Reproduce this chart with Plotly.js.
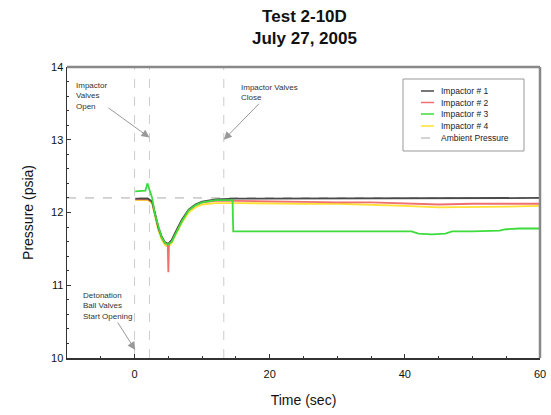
<!DOCTYPE html>
<html><head><meta charset="utf-8">
<script src="https://cdn.plot.ly/plotly-3.0.1.min.js"></script>
<style>body{margin:0;background:#fff}#c{width:551px;height:415px}</style>
</head><body><div id="c"></div>
<script>
// Impactor #1
const t1 = [0.1, 1, 2, 2.6, 3, 3.5, 4, 4.5, 5, 5.5, 6, 7, 8, 9, 10, 11, 12, 15, 20, 25, 30, 35, 40, 45, 50, 55, 60];
const p1 = [12.19, 12.19, 12.19, 12.15, 11.98, 11.8, 11.67, 11.59, 11.57, 11.62, 11.72, 11.9, 12.04, 12.11, 12.15, 12.17, 12.18, 12.19, 12.19, 12.19, 12.19, 12.19, 12.2, 12.19, 12.2, 12.2, 12.2];
// Impactor #2
const t2 = [0.1, 1, 2, 2.6, 3, 3.5, 4, 4.5, 4.9, 5.0, 5.1, 5.5, 6, 7, 8, 9, 10, 11, 12, 15, 20, 25, 30, 35, 40, 45, 50, 55, 60];
const p2 = [12.18, 12.18, 12.18, 12.14, 11.97, 11.79, 11.66, 11.58, 11.56, 11.18, 11.58, 11.62, 11.71, 11.89, 12.03, 12.1, 12.14, 12.15, 12.16, 12.16, 12.15, 12.15, 12.14, 12.14, 12.13, 12.11, 12.12, 12.12, 12.12];
// Impactor #3
const t3 = [0.1, 1, 1.6, 1.9, 2.2, 2.6, 3, 3.5, 4, 4.5, 5, 5.5, 6, 7, 8, 9, 10, 11, 12, 14.5, 14.6, 20, 25, 30, 35, 40, 41, 42, 44, 46, 47, 50, 54, 55, 57, 60];
const p3 = [12.29, 12.29, 12.3, 12.4, 12.3, 12.2, 11.98, 11.8, 11.66, 11.58, 11.56, 11.6, 11.7, 11.88, 12.03, 12.1, 12.14, 12.16, 12.17, 12.17, 11.74, 11.74, 11.74, 11.74, 11.74, 11.74, 11.74, 11.71, 11.7, 11.71, 11.74, 11.74, 11.75, 11.77, 11.78, 11.78];
// Impactor #4
const t4 = [0.1, 1, 2, 2.6, 3, 3.5, 4, 4.5, 5, 5.5, 6, 7, 8, 9, 10, 11, 12, 15, 20, 25, 30, 35, 40, 45, 50, 55, 60];
const p4 = [12.17, 12.17, 12.17, 12.12, 11.94, 11.76, 11.63, 11.55, 11.53, 11.58, 11.68, 11.86, 12.0, 12.07, 12.11, 12.12, 12.13, 12.13, 12.12, 12.12, 12.12, 12.11, 12.09, 12.07, 12.07, 12.08, 12.09];
const ambientT = [-10, 60];
const ambientP = [12.2, 12.2];
const eventTimes = [0, 2.2, 13.2];
const names = ["Impactor # 1", "Impactor # 2", "Impactor # 3", "Impactor # 4", "Ambient Pressure"];
const xTicks = [0, 20, 40, 60];
const yTicks = [10, 11, 12, 13, 14];

const FONT = 'Liberation Sans, Arial, sans-serif';
const colors = ["#4a4a4a", "#f07070", "#3ddc3d", "#ffe033", "#aaaaaa"];
const widths = [1.8, 1.8, 1.8, 1.8, 1];
const dashes = ['solid', 'solid', 'solid', 'solid', 'dash'];
const series = [[t1, p1], [t2, p2], [t3, p3], [t4, p4], [ambientT, ambientP]];
const drawOrder = [4, 3, 1, 0, 2];
const plotData = drawOrder.map(i => ({
  x: series[i][0], y: series[i][1], mode: 'lines', name: names[i], showlegend: false,
  line: {color: colors[i], width: widths[i], dash: dashes[i]}
}));

const shapes = eventTimes.map(t => ({type: 'line', xref: 'x', yref: 'paper', x0: t, x1: t, y0: 0, y1: 1,
  line: {color: '#cccccc', width: 1, dash: 'dash'}, layer: 'below'}));
shapes.push(
  {type: 'line', xref: 'paper', yref: 'paper', x0: 0, x1: 1, y0: 1, y1: 1, line: {color: '#888', width: 2.5}},
  {type: 'line', xref: 'paper', yref: 'paper', x0: 1, x1: 1, y0: 0, y1: 1, line: {color: '#888', width: 2.5}}
);
// custom legend (pixel layout converted to paper coords)
const PL = 67, PW = 473, PB = 358, PH = 291;
const px = v => (v - PL) / PW, py = v => (PB - v) / PH;
shapes.push({type: 'rect', xref: 'paper', yref: 'paper', x0: px(403), x1: px(524), y0: py(151), y1: py(79),
  line: {color: '#999', width: 1}, fillcolor: '#fff'});
const annotations = [];
const rowsY = [91, 102.5, 114, 126, 138];
names.forEach((n, i) => {
  shapes.push({type: 'line', xref: 'paper', yref: 'paper', x0: px(421), x1: px(434), y0: py(rowsY[i]), y1: py(rowsY[i]),
    line: {color: colors[i], width: i < 4 ? 1.5 : 1, dash: i < 4 ? 'solid' : 'dash'}});
  annotations.push({text: n, xref: 'paper', yref: 'paper', x: px(439), y: py(rowsY[i]), xanchor: 'left', yanchor: 'middle',
    showarrow: false, font: {family: FONT, size: 8.5, color: '#222'}});
});

const arrowStyle = {showarrow: true, arrowhead: 2, arrowsize: 1.6, arrowwidth: 1, arrowcolor: '#999999',
  font: {family: FONT, size: 8, color: '#333'}, align: 'left', xref: 'x', yref: 'y'};
annotations.push(
  Object.assign({}, arrowStyle, {text: 'Impactor<br>Valves<br>Open', x: 2.2, y: 13.03, ax: -58, ay: -42}),
  Object.assign({}, arrowStyle, {text: 'Impactor Valves<br>Close', x: 13.2, y: 13.0, ax: 46, ay: -47}),
  Object.assign({}, arrowStyle, {text: 'Detonation<br>Ball Valves<br>Start Opening', x: 0.1, y: 10.11, ax: -28, ay: -44}),
  {text: '<b>Test 2-10D<br>July 27, 2005</b>', xref: 'paper', yref: 'paper', x: px(304), y: py(5), xanchor: 'center', yanchor: 'top',
    showarrow: false, font: {family: FONT, size: 17, color: '#111'}}
);

const layout = {
  width: 551, height: 415,
  margin: {l: 67, r: 11, t: 67, b: 57},
  paper_bgcolor: '#fff', plot_bgcolor: '#fff',
  xaxis: {range: [-10, 60], tickvals: xTicks, ticks: 'inside', ticklen: 4, tickcolor: '#333',
    minor: {dtick: 5, ticks: 'inside', ticklen: 2, tickcolor: '#333'}, ticklabelstandoff: 5,
    showgrid: false, zeroline: false, showline: true, linecolor: '#333', linewidth: 1.5,
    tickfont: {family: FONT, size: 11, color: '#111'},
    title: {text: 'Time (sec)', standoff: 16, font: {family: FONT, size: 14, color: '#111'}}},
  yaxis: {range: [10, 14], tickvals: yTicks, ticks: 'inside', ticklen: 4, tickcolor: '#333',
    minor: {dtick: 0.2, ticks: 'inside', ticklen: 2, tickcolor: '#333'},
    showgrid: false, zeroline: false, showline: true, linecolor: '#333', linewidth: 1.5,
    tickfont: {family: FONT, size: 11, color: '#111'},
    title: {text: 'Pressure (psia)', standoff: 14, font: {family: FONT, size: 14, color: '#111'}}},
  shapes: shapes,
  showlegend: false,
  annotations: annotations
};
Plotly.newPlot('c', plotData, layout, {staticPlot: true});
</script></body></html>
